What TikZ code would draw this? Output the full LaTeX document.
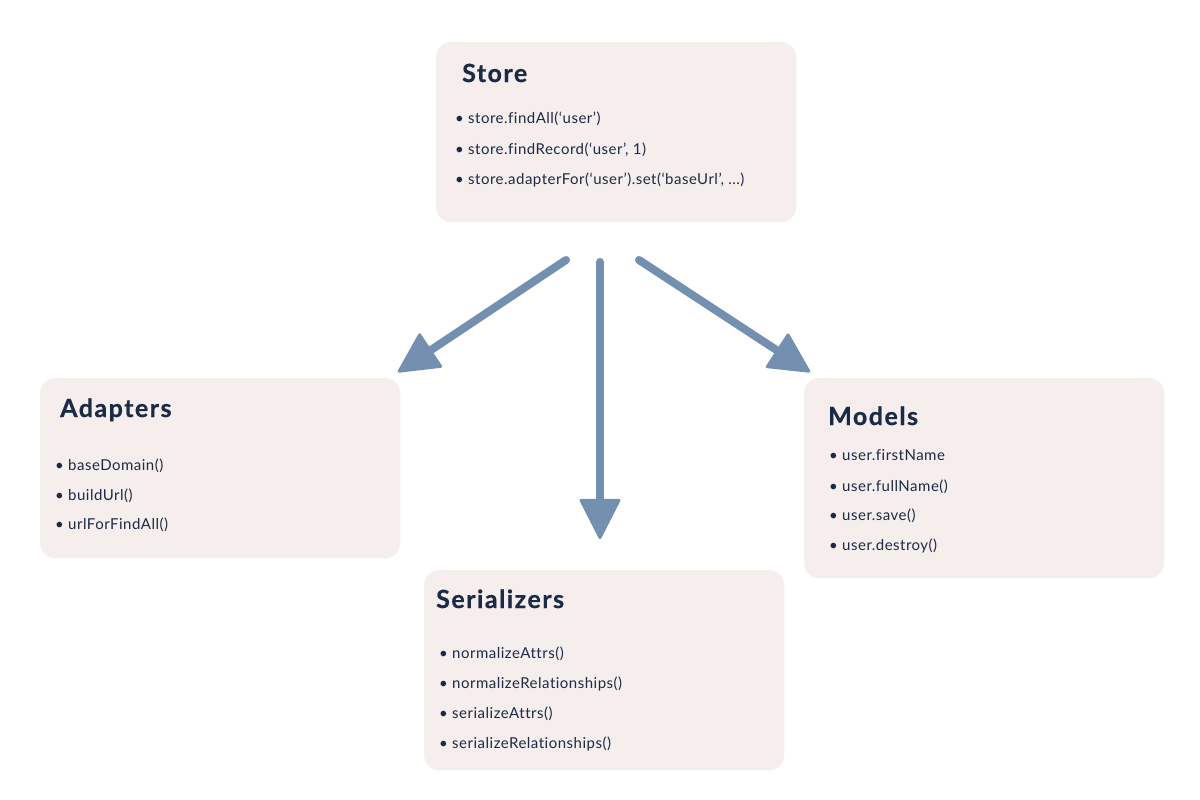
\documentclass[tikz,border=0pt]{standalone}
\usepackage{fontspec}
\setmainfont{Lato}
\newfontfamily\itemfont{Lato}[LetterSpace=3.3, Ligatures=NoCommon]
\newfontfamily\heavyfont{Lato}[LetterSpace=6, Ligatures=NoCommon, BoldFeatures={FakeBold=0.6}]
\usetikzlibrary{arrows.meta}
\definecolor{boxfill}{HTML}{F5EEEC}
\definecolor{txt}{HTML}{1B2A46}
\definecolor{arrc}{HTML}{7490B0}
\tikzset{
  box/.style={fill=boxfill, draw=none, rounded corners=15pt, anchor=north west, inner sep=0pt},
  ttl/.style={anchor=base west, inner sep=0pt, text=txt, font=\heavyfont\fontsize{25}{29}\selectfont\bfseries},
  itm/.style={anchor=base west, inner sep=0pt, text=txt, font=\itemfont\fontsize{15}{18}\selectfont},
  flow/.style={line width=8pt, color=arrc, line cap=round,
    -{Triangle[length=42pt, width=42pt, round, line width=3pt]}}
}
\begin{document}
\begin{tikzpicture}[x=1pt, y=-1pt]
\useasboundingbox (0,0) rectangle (1200,800);
\fill[white] (0,0) rectangle (1200,800);
% boxes
\node[box, minimum width=360pt, minimum height=180pt] (store) at (436,42) {};
\node[box, minimum width=360pt, minimum height=180pt] (adapters) at (40,378) {};
\node[box, minimum width=360pt, minimum height=200pt] (models) at (804,378) {};
\node[box, minimum width=360pt, minimum height=200pt] (serial) at (424,570) {};
% store text
\node[ttl] (storet) at (462,82) {Store};
\node[itm] (s1) at (455,124) {• store.findAll(‘user’)};
\node[itm] (s2) at (455,154) {• store.findRecord(‘user’, 1)};
\node[itm] (s3) at (455,184) {• store.adapterFor(‘user’).set(‘baseUrl’, ...)};
% adapters text
\node[ttl] (adt) at (60,417) {Adapters};
\node[itm] (a1) at (55,470) {• baseDomain()};
\node[itm] (a2) at (55,500) {• buildUrl()};
\node[itm] (a3) at (55,529) {• urlForFindAll()};
% models text
\node[ttl] (mot) at (828,425) {Models};
\node[itm] (m1) at (829,460) {• user.firstName};
\node[itm] (m2) at (829,491) {• user.fullName()};
\node[itm] (m3) at (829,520) {• user.save()};
\node[itm] (m4) at (829,550) {• user.destroy()};
% serializers text
\node[ttl] (set) at (436,608) {Serializers};
\node[itm] (z1) at (439,658) {• normalizeAttrs()};
\node[itm] (z2) at (439,688) {• normalizeRelationships()};
\node[itm] (z3) at (439,718) {• serializeAttrs()};
\node[itm] (z4) at (439,748) {• serializeRelationships()};
% arrows
\coordinate (fromL) at (566,260);
\coordinate (fromM) at (600,262);
\coordinate (fromR) at (639,260);
\coordinate (toL) at (398,372);
\coordinate (toM) at (600,539);
\coordinate (toR) at (810,372);
\draw[flow] (fromL) -- (toL);
\draw[flow] (fromM) -- (toM);
\draw[flow] (fromR) -- (toR);
\end{tikzpicture}
\end{document}
